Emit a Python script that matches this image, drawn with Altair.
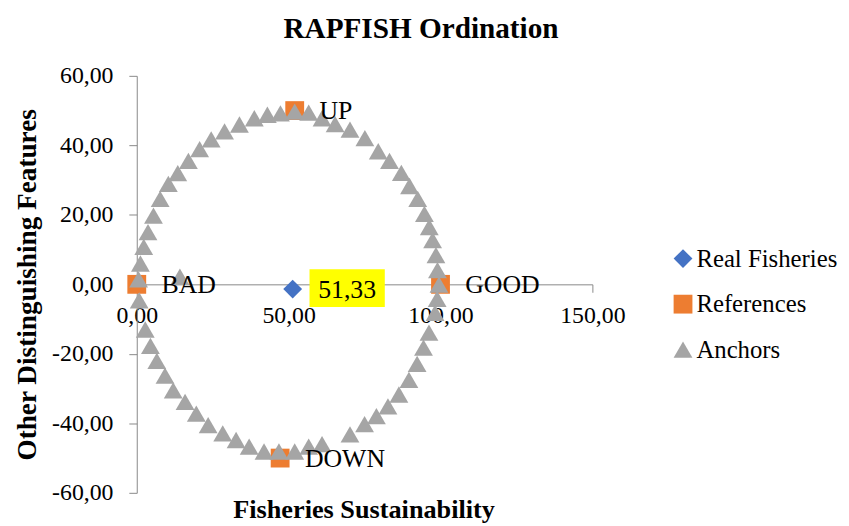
import altair as alt
import pandas as pd

series_names = ["Real Fisheries", "References", "Anchors"]
series_colors = ["#4472C4", "#ED7D31", "#A5A5A5"]
series_shapes = ["diamond", "square", "triangle-up"]
series_sizes = [361, 361, 289]

real_x = [51.33]
real_y = [-1.37]

ref_labels = ["BAD", "GOOD", "UP", "DOWN"]
ref_x = [0.0, 100.0, 52.0, 47.2]
ref_y = [0.0, 0.0, 50.0, -50.0]

anchor_x = [
    0.6, 1.2, 2.3, 3.7, 5.5, 7.7, 10.4, 13.5, 17.0, 20.7, 24.5, 28.9, 33.8, 38.7, 43.0, 47.3, 52.0,
    56.6, 61.0, 65.3, 70.2, 75.1, 79.5, 83.2, 87.1, 89.8, 92.5, 94.7, 96.3, 97.4, 98.5, 99.0, 99.5,
    98.9, 98.2, 96.2, 94.4, 92.3, 89.6, 86.3, 82.7, 78.9, 75.0, 70.2, 61.0, 56.6, 52.0,
    46.8, 41.9, 37.0, 32.7, 28.3, 23.5, 19.6, 15.9, 12.0, 9.3, 6.6, 4.5, 2.8, 0.8,
    14.2,
]
anchor_y = [
    1.4, 6.0, 10.8, 15.0, 19.8, 24.6, 28.9, 32.0, 35.5, 38.9, 41.7, 44.0, 46.0, 47.8, 48.8, 49.2, 49.7,
    49.4, 47.8, 46.1, 44.5, 42.1, 38.3, 35.5, 32.1, 28.3, 24.6, 20.3, 16.5, 12.7, 8.4, 4.1, -0.1,
    -4.2, -8.2, -13.9, -18.2, -22.9, -27.5, -31.7, -35.1, -37.9, -40.2, -43.2, -46.0, -46.7, -48.1,
    -48.1, -48.1, -46.7, -44.8, -42.9, -40.5, -37.2, -33.8, -30.5, -26.3, -22.0, -17.7, -13.0, -4.6,
    2.2,
]

rows = []
for xv, yv in zip(real_x, real_y):
    rows.append({"series": series_names[0], "x": xv, "y": yv, "z": 0})
for xv, yv in zip(ref_x, ref_y):
    rows.append({"series": series_names[1], "x": xv, "y": yv, "z": 1})
for xv, yv in zip(anchor_x, anchor_y):
    rows.append({"series": series_names[2], "x": xv, "y": yv, "z": 2})
df = pd.DataFrame(rows)

df_ref = pd.DataFrame({"x": ref_x, "y": ref_y, "label": ref_labels})
df_real = pd.DataFrame({
    "x": real_x, "y": real_y,
    "label": [f"{v:.2f}".replace(".", ",") for v in real_x],
})

SERIF = "Liberation Serif"
AXIS_GRAY = "#898989"
label_expr = "(datum.value < 0 ? '-' : '') + replace(format(abs(datum.value), '.2f'), '.', ',')"

x_scale = alt.Scale(domain=[0, 150], nice=False, zero=False)
y_scale = alt.Scale(domain=[-60, 60], nice=False, zero=False)

x_axis = alt.Axis(
    values=[0, 50, 100, 150], labelExpr=label_expr, offset=-210.5, grid=False,
    domainColor=AXIS_GRAY, tickColor=AXIS_GRAY, tickSize=8,
    labelFont=SERIF, labelFontSize=24, labelColor="black", labelPadding=12,
    title="Fisheries Sustainability", titleFont=SERIF, titleFontSize=26.5,
    titleFontWeight="bold", titleColor="black", titleX=229, titleY=235,
    titleBaseline="alphabetic", titleAlign="center", labelFlush=False, labelOverlap=False,
)
y_axis = alt.Axis(
    values=[-60, -40, -20, 0, 20, 40, 60], labelExpr=label_expr, grid=False,
    domainColor=AXIS_GRAY, tickColor=AXIS_GRAY, tickSize=8,
    labelFont=SERIF, labelFontSize=24, labelColor="black", labelPadding=16,
    title="Other Distinguishing Features", titleFont=SERIF, titleFontSize=27.5,
    titleFontWeight="bold", titleColor="black", titleX=-110, titleY=210.5,
    titleAngle=270, titleBaseline="middle", titleAlign="center", labelFlush=False,
    labelOverlap=False,
)

xe = alt.X("x:Q", scale=x_scale, axis=x_axis)
ye = alt.Y("y:Q", scale=y_scale, axis=y_axis)

points = alt.Chart(df).mark_point(filled=True, opacity=1, strokeWidth=0).encode(
    x=xe, y=ye,
    color=alt.Color("series:N", scale=alt.Scale(domain=series_names, range=series_colors),
                    legend=alt.Legend(title=None, orient="none", legendX=539, legendY=172,
                                      labelFont=SERIF, labelFontSize=25, labelColor="black",
                                      symbolSize=300, rowPadding=20, labelOffset=1,
                                      symbolStrokeWidth=0, padding=0)),
    shape=alt.Shape("series:N", scale=alt.Scale(domain=series_names, range=series_shapes)),
    size=alt.Size("series:N", scale=alt.Scale(domain=series_names, range=series_sizes), legend=None),
    order=alt.Order("z:Q"),
)

box = alt.Chart(df_real).mark_rect(
    color="#FFFF00", xOffset=17, x2Offset=93, yOffset=-20, y2Offset=18
).encode(x=xe, x2="x:Q", y=ye, y2="y:Q")

real_text = alt.Chart(df_real).mark_text(
    align="center", baseline="middle", dx=55, dy=1, font=SERIF, fontSize=26, color="black"
).encode(x=xe, y=ye, text="label:N")

ref_text = alt.Chart(df_ref).mark_text(
    align="left", baseline="middle", dx=25, dy=1, font=SERIF, fontSize=26, color="black"
).encode(x=xe, y=ye, text="label:N")

chart = alt.layer(points, box, real_text, ref_text).properties(
    width=460, height=421,
    title=alt.Title("RAPFISH Ordination", font=SERIF, fontSize=29.5, fontWeight="bold",
                    color="black", anchor="middle", frame="group", offset=-3,
                    baseline="alphabetic", dx=57),
    padding={"left": 130, "top": 66, "right": 251, "bottom": 31},
    autosize="none",
    background="white",
).configure_view(stroke=None)

chart.save("out.html", embed_options={"renderer": "svg", "actions": False})
